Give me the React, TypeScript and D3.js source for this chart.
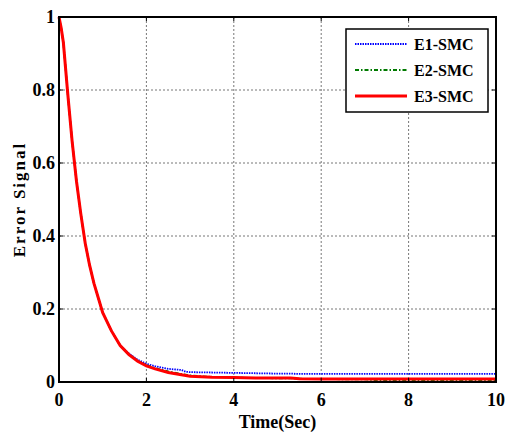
import React from 'react';
import * as d3 from 'd3';

const WIDTH = 505;
const HEIGHT = 438;

// time samples (sec)
const times = [0, 0.05, 0.1, 0.2, 0.3, 0.4, 0.5, 0.6, 0.7, 0.8, 0.9, 1.0, 1.2, 1.4, 1.6, 1.8, 2.0, 2.2, 2.5, 2.8, 2.9, 3.0, 3.5, 4.0, 4.5, 5.0, 5.3, 5.5, 6, 7, 7.4, 8, 9, 10];

const e1Values = [1, 0.97, 0.93, 0.79, 0.66, 0.55, 0.46, 0.38, 0.32, 0.27, 0.23, 0.19, 0.14, 0.1, 0.078, 0.061, 0.05, 0.043, 0.036, 0.033, 0.028, 0.027, 0.026, 0.025, 0.024, 0.023, 0.023, 0.022, 0.022, 0.022, 0.022, 0.022, 0.022, 0.022];
const e2Values = [1, 0.97, 0.93, 0.79, 0.66, 0.55, 0.46, 0.38, 0.32, 0.27, 0.23, 0.19, 0.14, 0.1, 0.076, 0.058, 0.046, 0.038, 0.029, 0.022, 0.02, 0.018, 0.014, 0.012, 0.011, 0.01, 0.01, 0.009, 0.008, 0.007, 0.004, 0.004, 0.004, 0.004];
const e3Values = [1, 0.97, 0.93, 0.79, 0.66, 0.55, 0.46, 0.38, 0.32, 0.27, 0.23, 0.19, 0.14, 0.1, 0.075, 0.057, 0.044, 0.036, 0.026, 0.02, 0.018, 0.016, 0.013, 0.012, 0.011, 0.011, 0.011, 0.009, 0.008, 0.008, 0.008, 0.008, 0.008, 0.008];

const xTicks = [0, 2, 4, 6, 8, 10];
const yTicks = [0, 0.2, 0.4, 0.6, 0.8, 1];

const seriesNames = ['E1-SMC', 'E2-SMC', 'E3-SMC'];

const margin = { left: 59, top: 17, right: 9, bottom: 56 };
const textStyle = { fontFamily: "'Liberation Serif', 'DejaVu Serif', serif", fontWeight: 700 };

const App = () => {
  const x = d3.scaleLinear().domain([0, 10]).range([margin.left, WIDTH - margin.right]);
  const y = d3.scaleLinear().domain([0, 1]).range([HEIGHT - margin.bottom, margin.top]);

  const line = d3.line<[number, number]>()
    .x(d => x(d[0]))
    .y(d => y(d[1]));

  const series = [
    { name: seriesNames[0], values: e1Values, color: '#0000ff', width: 1.8, dash: '1.5,1' },
    { name: seriesNames[1], values: e2Values, color: '#007a00', width: 1.8, dash: '4,2,1.5,2' },
    { name: seriesNames[2], values: e3Values, color: '#ff0000', width: 3, dash: 'none' },
  ];

  const [x0, x1] = x.range();
  const [y0, y1] = y.range();
  const tickLen = 4;

  const legend = { x: 346, y: 29, w: 142, h: 83 };
  const rowY = [44, 70, 96];

  return (
    <svg width={WIDTH} height={HEIGHT} style={{ position: 'absolute', left: 0, top: 0, background: '#fff' }}>
      {/* grid */}
      <g stroke='#777' strokeWidth='1' strokeDasharray='2,2'>
        {xTicks.slice(1, -1).map(t => (
          <line key={'gx' + t} x1={x(t)} x2={x(t)} y1={y1} y2={y0} />
        ))}
        {yTicks.slice(1, -1).map(t => (
          <line key={'gy' + t} x1={x0} x2={x1} y1={y(t)} y2={y(t)} />
        ))}
      </g>

      {/* curves */}
      {series.map(s => (
        <path
          key={s.name}
          d={line(times.map((t, i) => [t, s.values[i]] as [number, number])) || ''}
          fill='none'
          stroke={s.color}
          strokeWidth={s.width}
          strokeDasharray={s.dash}
        />
      ))}

      {/* ticks */}
      <g stroke='#000' strokeWidth='1'>
        {xTicks.map(t => (
          <g key={'tx' + t}>
            <line x1={x(t)} x2={x(t)} y1={y0} y2={y0 - tickLen} />
            <line x1={x(t)} x2={x(t)} y1={y1} y2={y1 + tickLen} />
          </g>
        ))}
        {yTicks.map(t => (
          <g key={'ty' + t}>
            <line x1={x0} x2={x0 + tickLen} y1={y(t)} y2={y(t)} />
            <line x1={x1} x2={x1 - tickLen} y1={y(t)} y2={y(t)} />
          </g>
        ))}
      </g>

      {/* frame */}
      <rect x={x0} y={y1} width={x1 - x0} height={y0 - y1} fill='none' stroke='#000' strokeWidth='2' />

      {/* tick labels */}
      <g style={{ ...textStyle, fontSize: 18 }} fill='#000'>
        {xTicks.map(t => (
          <text key={'lx' + t} x={x(t)} y={y0 + 24} textAnchor='middle'>{t}</text>
        ))}
        {yTicks.map(t => (
          <text key={'ly' + t} x={x0 - 4} y={y(t)} dy='0.35em' textAnchor='end'>{t}</text>
        ))}
      </g>

      {/* axis labels */}
      <text x={(x0 + x1) / 2} y={428} textAnchor='middle' style={{ ...textStyle, fontSize: 18 }}>Time(Sec)</text>
      <text
        transform={`translate(25, ${(y0 + y1) / 2}) rotate(-90)`}
        textAnchor='middle'
        style={{ ...textStyle, fontSize: 17, letterSpacing: 2 }}
      >Error Signal</text>

      {/* legend */}
      <rect x={legend.x} y={legend.y} width={legend.w} height={legend.h} fill='#fff' stroke='#000' strokeWidth='1.5' />
      {series.map((s, i) => (
        <g key={'leg' + s.name}>
          <line x1={355} x2={407} y1={rowY[i]} y2={rowY[i]} stroke={s.color} strokeWidth={s.width} strokeDasharray={s.dash} />
          <text x={414} y={rowY[i]} dy='0.35em' style={{ ...textStyle, fontSize: 16 }}>{s.name}</text>
        </g>
      ))}
    </svg>
  );
};

export default App;
